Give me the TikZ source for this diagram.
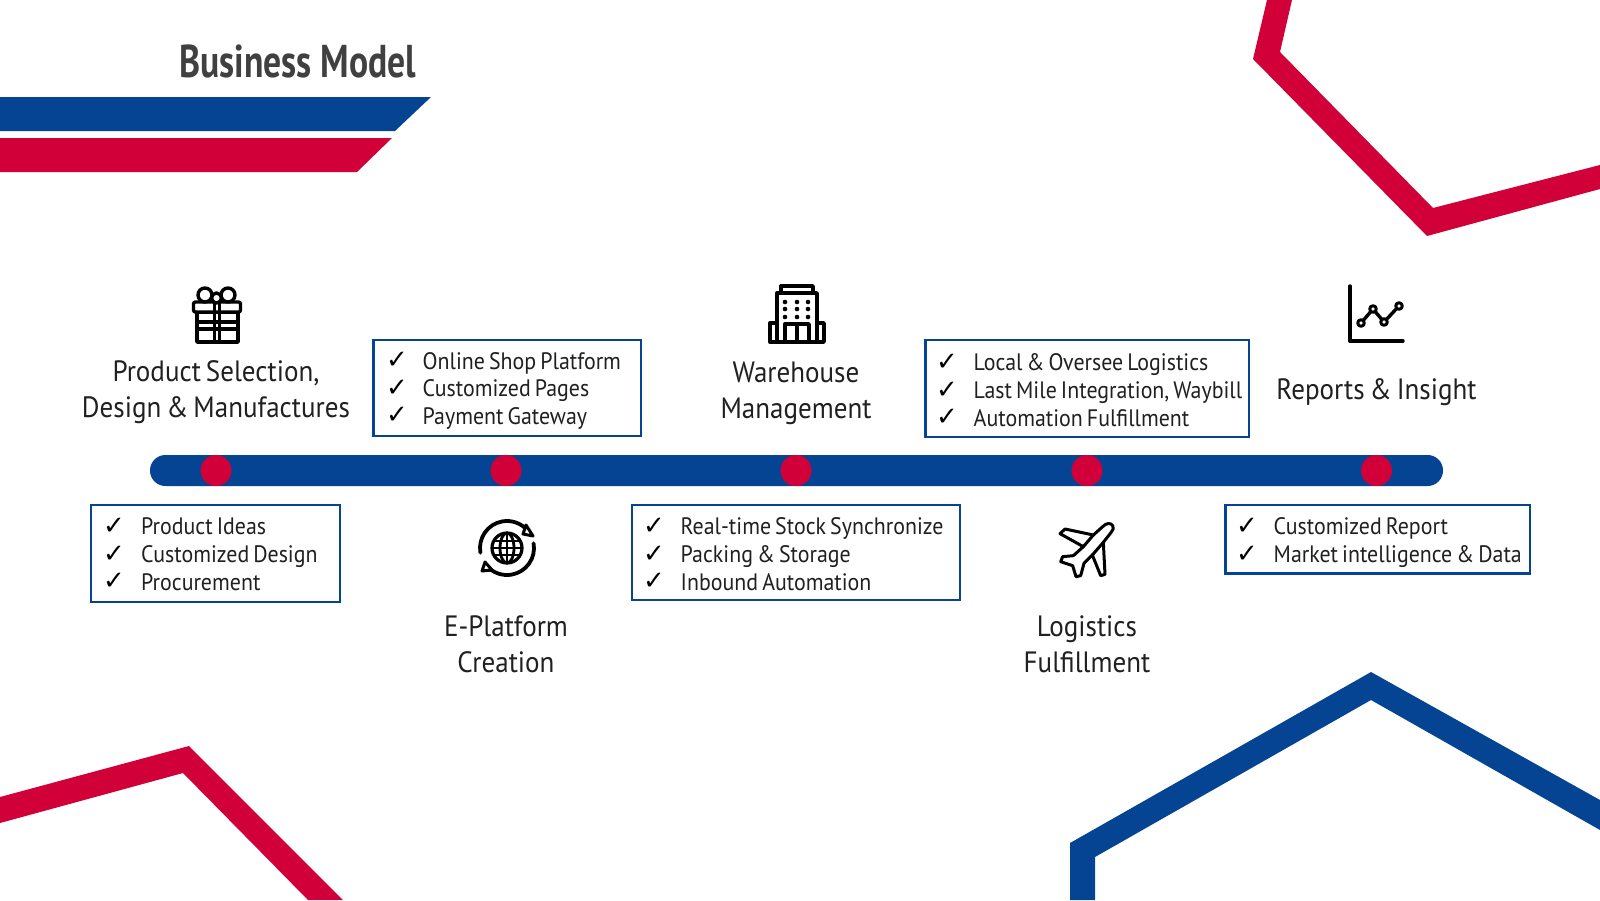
\documentclass[tikz,border=0pt]{standalone}
\usepackage{fontspec}
\setmainfont[FakeStretch=0.92,WordSpace=0.7]{PT Sans}
\newfontfamily\titlefont[FakeStretch=0.775]{PT Sans}
\newfontfamily\tickfont{DejaVu Sans}
\usetikzlibrary{calc}
\definecolor{bandblue}{RGB}{4,68,146}
\definecolor{bandred}{RGB}{209,0,56}
\definecolor{titlegray}{RGB}{64,64,64}
\definecolor{textgray}{RGB}{32,32,32}
\tikzset{
  itembox/.style={draw=bandblue,line width=2.5pt,fill=white,inner sep=0pt},
  item/.style={anchor=mid west,inner sep=0pt,text=textgray,yshift=-6pt,font=\fontsize{23.8}{26}\selectfont},
  tick/.style={inner sep=0pt,font=\tickfont\fontsize{26}{30}\selectfont},
  headtext/.style={align=center,inner sep=0pt,text=textgray,font=\fontsize{29.4}{36}\selectfont},
  icon/.style={line width=3.4pt,line join=round,line cap=round},
  dot/.style={circle,fill=bandred,minimum size=31pt,inner sep=0pt}
}
\begin{document}
\begin{tikzpicture}[x=1pt,y=-1pt]
    \useasboundingbox (0,0) rectangle (1600,900);
    % corners and title bands
    \fill[bandblue] (0,97) -- (431,97) -- (395,131) -- (0,131) -- cycle;
    \fill[bandred] (0,138) -- (392,138) -- (357,172) -- (0,172) -- cycle;
    \fill[bandred] (1267,0) -- (1253,59) -- (1427,236) -- (1600,189) -- (1600,165) -- (1433,208) -- (1280,52) -- (1292,0) -- cycle;
    \fill[bandred] (0,797) -- (189,746) -- (343,900) -- (308,900) -- (183,773) -- (0,823) -- cycle;
    \fill[bandblue] (1070,900) -- (1070,843) -- (1371,672) -- (1600,800) -- (1600,830) -- (1371,700) -- (1095,857) -- (1095,900) -- cycle;
    \node[anchor=mid west,inner sep=0pt,text=titlegray,font=\titlefont\bfseries\fontsize{46}{52}\selectfont] (title) at (179,75) {Business Model};

    % timeline
    \fill[bandblue,rounded corners=15.4pt] (150,455) rectangle (1443,486);
    \foreach \x/\n in {216/a,506/b,796/c,1087/d,1376.5/e}
        \node[dot] (dot\n) at (\x,470.5) {};

    % boxes
    \node[itembox,minimum width=249pt,minimum height=97pt] (boxa) at (215.5,553.5) {};
    \node[itembox,minimum width=267.5pt,minimum height=96pt] (boxb) at (507.25,388) {};
    \node[itembox,minimum width=328pt,minimum height=95pt] (boxc) at (796,552.5) {};
    \node[itembox,minimum width=323.5pt,minimum height=97pt] (boxd) at (1087.25,388.5) {};
    \node[itembox,minimum width=304.5pt,minimum height=68.5pt] (boxe) at (1377.75,539.25) {};

    \foreach \y/\t in {526/Product Ideas,554/Customized Design,581.5/Procurement}{
        \node[tick] (ticka\y) at (114,\y) {✓};
        \node[item] (itema\y) at (141,\y) {\t};
    }
    \foreach \y/\t in {360.5/Online Shop Platform,388/Customized Pages,415.5/Payment Gateway}{
        \node[tick] (tickb\y) at (397,\y) {✓};
        \node[item] (itemb\y) at (422.5,\y) {\t};
    }
    \foreach \y/\t in {526/Real-time Stock Synchronize,554/Packing \& Storage,581.5/Inbound Automation}{
        \node[tick] (tickc\y) at (654,\y) {✓};
        \node[item] (itemc\y) at (680.5,\y) {\t};
    }
    \foreach \y/\t in {362/Local \& Oversee Logistics,390/{Last Mile Integration, Waybill},417.5/Automation Fulfillment}{
        \node[tick] (tickd\y) at (947,\y) {✓};
        \node[item] (itemd\y) at (973.5,\y) {\t};
    }
    \foreach \y/\t in {526/Customized Report,554/Market intelligence \& Data}{
        \node[tick] (ticke\y) at (1247,\y) {✓};
        \node[item] (iteme\y) at (1273.5,\y) {\t};
    }

    % headings
    \node[headtext] (heada) at (216,392) {Product Selection,~\\Design \& Manufactures};
    \node[headtext] (headb) at (506,644) {E-Platform~\\Creation};
    \node[headtext] (headc) at (796,393) {Warehouse~\\Management};
    \node[headtext] (headd) at (1087,644) {Logistics~\\Fulfillment};
    \node[headtext] (heade) at (1376.5,392) {Reports \& Insight};

    % gift
    \begin{scope}[icon]
        \draw (197,312) rectangle (238,342);
        \draw[fill=white,rounded corners=2pt] (193.5,302) rectangle (240.5,312);
        \draw (205,295) circle (7);
        \draw (228,295) circle (7);
        \draw[fill=white] (216.5,298) circle (5);
        \draw (214.5,302) -- (214.5,342) (219.5,302) -- (219.5,342);
        \draw (197,322) -- (238,322) (197,329) -- (238,329);
    \end{scope}

    % globe
    \begin{scope}[icon,line width=3.8pt,shift={(507,548)}]
        \draw (170:27) arc (170:320:27);
        \draw (-10:27) arc (-10:140:27);
        \draw[fill=white,line width=3pt] (19,-23) -- (26,-12) -- (16,-14) -- cycle;
        \draw[fill=white,line width=3pt] (-22,14) -- (-25,23) -- (-15,22) -- cycle;
        \draw[line width=3.2pt] (0,0) circle (15);
        \draw[line width=2.8pt] (0,0) ellipse (7 and 15);
        \draw[line width=2.8pt] (0,-15) -- (0,15) (-15,0) -- (15,0) (-13,-7) -- (13,-7) (-13,7) -- (13,7);
    \end{scope}

    % building
    \begin{scope}[icon]
        \draw (781,293) -- (781,286) -- (813,286) -- (813,293);
        \draw (781,293) -- (813,293);
        \draw (777,342) -- (777,293) -- (817,293) -- (817,342);
        \draw (777,323) -- (770,323) -- (770,342) -- (824,342) -- (824,323) -- (817,323);
        \draw (785,342) -- (785,324) -- (809,324) -- (809,342) (797,324) -- (797,342);
        \foreach \x in {785,797,808}
            \foreach \y in {302,309,317}
                \fill (\x,\y) circle (2.3);
    \end{scope}

    % plane
    \begin{scope}[icon,line width=3pt,shift={(1040,505)},x=0.3333pt,y=-0.3333pt]
        \draw (218,62) .. controls (212,52) and (198,54) .. (188,65) -- (160,90) -- (75,72) -- (60,86) -- (130,125)
            -- (100,152) -- (68,155) -- (62,170) -- (98,182) -- (108,215) -- (122,212) -- (132,175) -- (157,150)
            -- (182,212) -- (195,208) -- (190,112) -- (215,80) .. controls (220,74) and (222,68) .. (218,62) -- cycle;
        \draw (160,90) -- (130,125) (190,112) -- (157,150);
    \end{scope}

    % chart
    \begin{scope}[icon]
        \draw (1350,286) -- (1350,341) -- (1403,341);
        \draw (1361,323) -- (1373,309) -- (1384,322) -- (1399,306);
        \foreach \x/\y in {1361/323,1373/309,1384/322,1399/306}
            \draw[fill=white,line width=3pt] (\x,\y) circle (3.3);
    \end{scope}
\end{tikzpicture}
\end{document}
